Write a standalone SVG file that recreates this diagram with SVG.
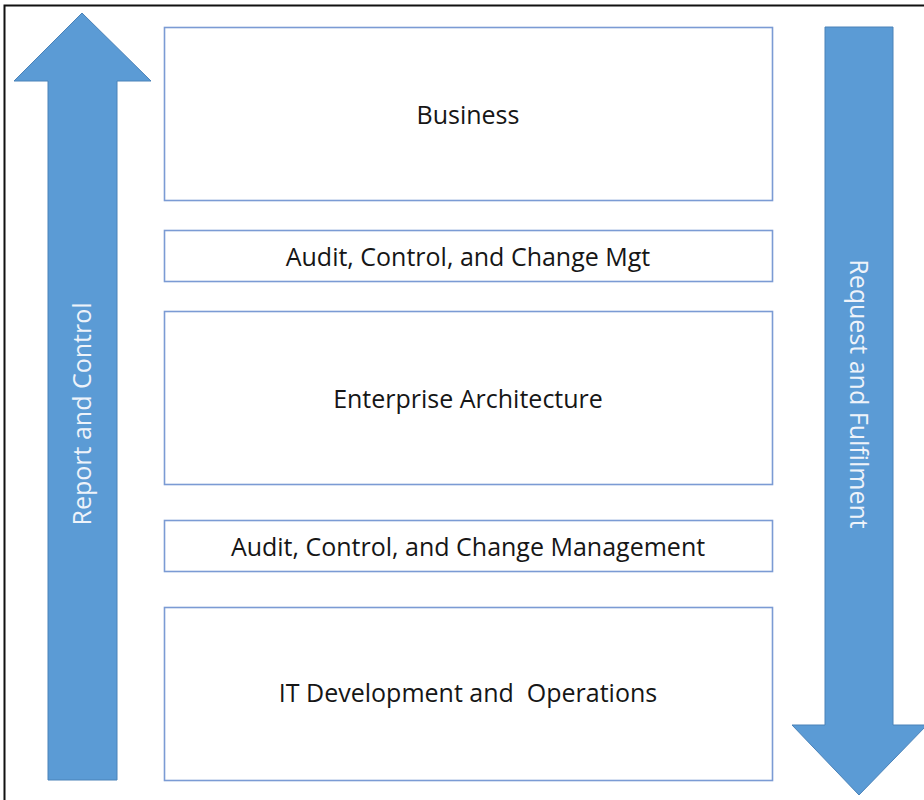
<svg xmlns="http://www.w3.org/2000/svg" width="924" height="800" viewBox="0 0 924 800">
<style>
.box{fill:#ffffff;stroke:#7b9bd4;stroke-width:1.6}
.arrow{fill:#5b9bd5;stroke:#4a82b8;stroke-width:1}
.lbl{font-family:"Open Sans","Liberation Sans",sans-serif;font-size:25px;fill:#161616;text-anchor:middle;white-space:pre}
.vlbl{font-family:"Open Sans","Liberation Sans",sans-serif;font-size:25px;fill:#eef3fa;text-anchor:middle}
</style>
<rect x="0" y="0" width="924" height="800" fill="#ffffff"/>
<path d="M4.5,806 V5.5 H930" fill="none" stroke="#111" stroke-width="2"/>
<g id="arrow-up">
<polygon class="arrow" points="82,13 151,81 117,81 117,780 48,780 48,81 14,81"/>
<text class="vlbl" transform="translate(91,414) rotate(-90)">Report and Control</text>
</g>
<g id="arrow-down">
<polygon class="arrow" points="825,27 893,27 893,725 927,725 859,795 792,725 825,725"/>
<text class="vlbl" transform="translate(850,394) rotate(90)">Request and Fulfilment</text>
</g>
<g id="business">
<rect class="box" x="164.5" y="27.5" width="608" height="173"/>
<text class="lbl" x="468" y="124">Business</text>
</g>
<g id="audit1">
<rect class="box" x="164.5" y="230.5" width="608" height="51"/>
<text class="lbl" x="468" y="266">Audit, Control, and Change Mgt</text>
</g>
<g id="ea">
<rect class="box" x="164.5" y="311.5" width="608" height="173"/>
<text class="lbl" x="468" y="408">Enterprise Architecture</text>
</g>
<g id="audit2">
<rect class="box" x="164.5" y="520.5" width="608" height="51"/>
<text class="lbl" x="468" y="556">Audit, Control, and Change Management</text>
</g>
<g id="itdev">
<rect class="box" x="164.5" y="607.5" width="608" height="173"/>
<text class="lbl" x="468" y="702" xml:space="preserve">IT Development and  Operations</text>
</g>
<g id="connectors"></g>
</svg>
